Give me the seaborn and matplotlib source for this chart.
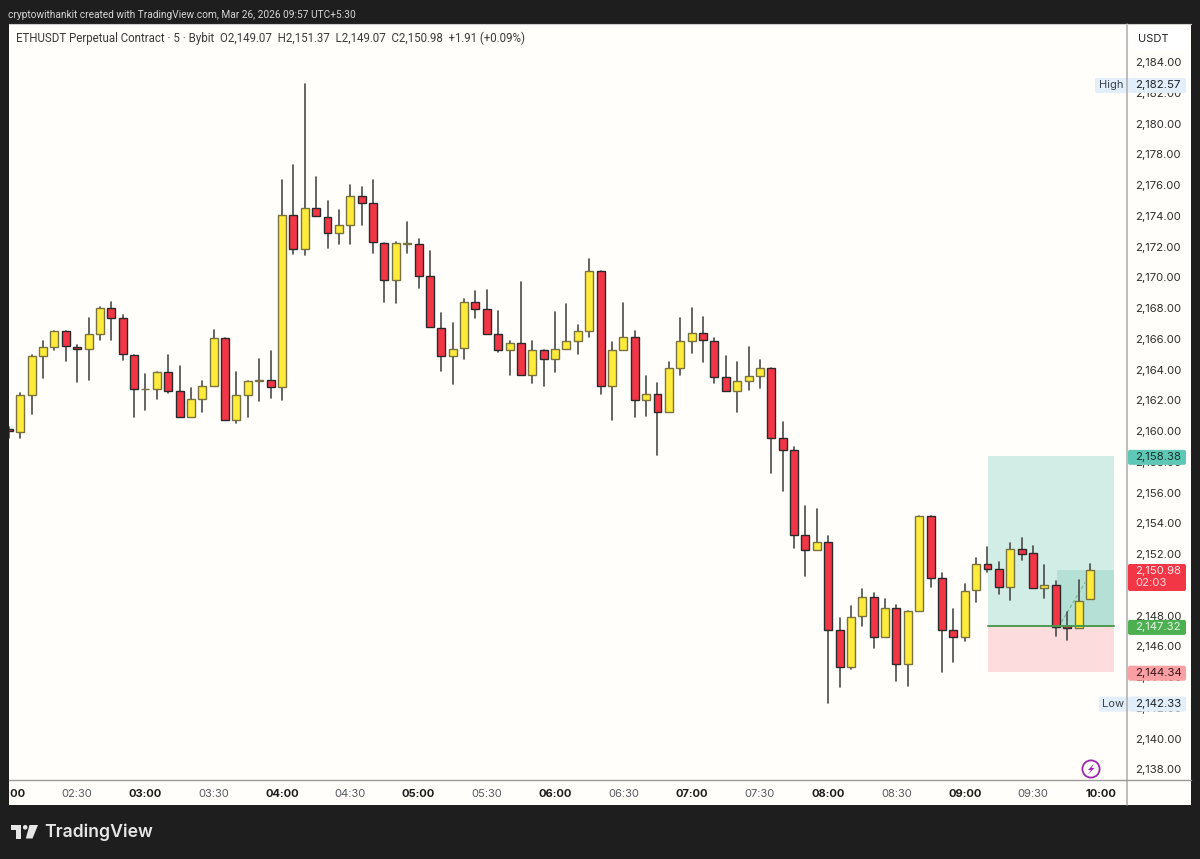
import matplotlib
matplotlib.use('Agg')
import matplotlib.pyplot as plt
from matplotlib.patches import FancyBboxPatch, Polygon, Circle
import pandas as pd
import seaborn as sns

# 5 minute candles, first one at 02:00
opens = [2160.13, 2159.99, 2162.37, 2164.91, 2165.50, 2166.56, 2165.52, 2165.37, 2166.36, 2168.03,
         2167.36, 2164.98, 2162.78, 2162.76, 2163.89, 2162.61, 2160.94, 2162.13, 2162.98, 2166.08,
         2160.77, 2162.39, 2163.29, 2163.37, 2162.92, 2174.10, 2171.85, 2174.54, 2173.95, 2172.91,
         2173.41, 2175.34, 2174.86, 2172.28, 2169.83, 2172.22, 2172.18, 2170.11, 2166.75, 2164.91,
         2165.41, 2168.42, 2167.99, 2166.34, 2165.28, 2165.74, 2163.68, 2165.32, 2164.70, 2165.39,
         2165.89, 2166.56, 2170.46, 2162.96, 2165.32, 2166.15, 2162.03, 2162.46, 2161.29, 2164.15,
         2165.89, 2166.41, 2165.91, 2163.53, 2162.61, 2163.31, 2163.63, 2164.11, 2159.56, 2158.80,
         2153.27, 2152.27, 2152.81, 2147.07, 2144.68, 2148.00, 2149.22, 2146.65, 2148.50, 2144.90,
         2148.33, 2154.52, 2150.45, 2147.07, 2146.64, 2149.67, 2151.40, 2151.06, 2149.87, 2152.38,
         2152.08, 2149.84, 2150.00, 2147.32, 2147.20, 2149.07]
highs = [2160.30, 2162.52, 2164.95, 2165.87, 2166.56, 2166.56, 2165.65, 2167.38, 2168.10, 2168.44,
         2167.60, 2164.98, 2163.76, 2163.89, 2164.95, 2164.24, 2162.85, 2163.29, 2166.58, 2166.08,
         2163.87, 2163.27, 2164.74, 2165.22, 2176.34, 2177.35, 2182.57, 2176.55, 2174.97, 2174.41,
         2176.01, 2175.88, 2176.38, 2172.28, 2172.33, 2173.63, 2172.52, 2171.76, 2167.69, 2167.04,
         2168.60, 2169.12, 2169.19, 2167.86, 2165.91, 2169.72, 2165.87, 2165.32, 2167.79, 2168.31,
         2166.93, 2171.20, 2170.46, 2165.80, 2168.34, 2166.56, 2163.61, 2163.18, 2164.50, 2167.40,
         2168.03, 2167.43, 2166.10, 2164.93, 2164.52, 2165.52, 2164.67, 2164.11, 2160.62, 2159.01,
         2155.16, 2154.94, 2153.20, 2147.89, 2148.67, 2149.78, 2149.48, 2149.09, 2148.70, 2148.33,
         2154.52, 2154.52, 2150.82, 2148.44, 2150.09, 2151.75, 2152.47, 2151.51, 2152.77, 2153.07,
         2152.55, 2151.30, 2150.26, 2148.26, 2150.34, 2151.37]
lows = [2159.60, 2159.60, 2161.16, 2163.48, 2165.28, 2164.59, 2163.22, 2163.33, 2165.95, 2165.95,
        2164.67, 2160.94, 2161.40, 2162.13, 2162.50, 2160.94, 2160.94, 2161.25, 2162.98, 2160.77,
        2160.55, 2160.94, 2161.99, 2162.16, 2162.07, 2171.57, 2171.46, 2174.00, 2171.94, 2172.22,
        2172.22, 2173.43, 2171.63, 2168.40, 2168.38, 2171.63, 2169.35, 2166.78, 2163.95, 2163.09,
        2164.72, 2167.38, 2166.36, 2165.19, 2163.70, 2163.68, 2163.16, 2162.94, 2163.85, 2165.39,
        2165.04, 2166.13, 2162.42, 2160.73, 2165.32, 2160.96, 2161.03, 2158.45, 2161.29, 2163.70,
        2165.11, 2164.52, 2163.16, 2162.61, 2161.27, 2162.68, 2162.85, 2157.32, 2156.13, 2152.42,
        2150.60, 2152.27, 2142.33, 2143.38, 2144.53, 2147.37, 2145.92, 2146.65, 2143.75, 2143.43,
        2148.33, 2149.91, 2144.38, 2145.03, 2146.40, 2148.93, 2150.84, 2149.43, 2149.04, 2151.64,
        2149.84, 2149.15, 2146.70, 2146.44, 2147.20, 2149.07]
closes = [2160.00, 2162.35, 2164.89, 2165.48, 2166.56, 2165.56, 2165.35, 2166.34, 2168.05, 2167.38,
          2165.02, 2162.76, 2162.78, 2163.89, 2162.63, 2160.94, 2162.13, 2162.98, 2166.08, 2160.77,
          2162.37, 2163.27, 2163.37, 2162.89, 2174.10, 2171.85, 2174.56, 2174.00, 2172.91, 2173.41,
          2175.34, 2174.88, 2172.33, 2169.83, 2172.26, 2172.26, 2170.13, 2166.78, 2164.91, 2165.39,
          2168.42, 2167.99, 2166.36, 2165.30, 2165.74, 2163.68, 2165.32, 2164.72, 2165.35, 2165.89,
          2166.52, 2170.46, 2162.98, 2165.28, 2166.13, 2162.03, 2162.46, 2161.29, 2164.13, 2165.87,
          2166.41, 2165.93, 2163.55, 2162.61, 2163.29, 2163.61, 2164.11, 2159.58, 2158.82, 2153.29,
          2152.27, 2152.81, 2147.11, 2144.68, 2147.96, 2149.22, 2146.65, 2148.50, 2144.90, 2148.33,
          2154.52, 2150.47, 2147.07, 2146.62, 2149.63, 2151.40, 2151.08, 2149.87, 2152.38, 2152.05,
          2149.84, 2150.02, 2147.31, 2147.22, 2148.96, 2150.98]

price_ticks = [2184, 2182, 2180, 2178, 2176, 2174, 2172, 2170, 2168, 2166, 2164, 2162,
               2160, 2158, 2156, 2154, 2152, 2150, 2148, 2146, 2144, 2142, 2140, 2138]
time_labels = ['02:00', '02:30', '03:00', '03:30', '04:00', '04:30', '05:00', '05:30',
               '06:00', '06:30', '07:00', '07:30', '08:00', '08:30', '09:00', '09:30', '10:00']

target_price = 2158.38
entry_price = 2147.32
stop_price = 2144.34
high_price = 2182.57
low_price = 2142.33
last_price = 2150.98

W, H = 1200, 859
BG = '#1e1e1e'
PANE = '#fffefa'
RED = '#f23645'
YELLOW = '#ffeb3b'


def axes_px(fig, left, top, right, bottom):
    return fig.add_axes([left / W, 1 - bottom / H, (right - left) / W, (bottom - top) / H])


sns.set_theme(style='white')
plt.rcParams['font.family'] = ['Inter', 'DejaVu Sans']

fig = plt.figure(figsize=(W / 100, H / 100), dpi=100, facecolor=BG)
ax = axes_px(fig, 9, 24, 1127, 780)
ax_price = axes_px(fig, 1127, 24, 1191, 780)
ax_time = axes_px(fig, 9, 780, 1127, 805)
ax_corner = axes_px(fig, 1127, 780, 1191, 805)
over = fig.add_axes([0, 0, 1, 1], facecolor='none')
over.set_xlim(0, W)
over.set_ylim(H, 0)
over.axis('off')

xlim = (0.01, 98.26)
ylim = (2137.33, 2186.50)


def py(price):
    # pixel row of a price on the main pane
    return 24 + (ylim[1] - price) / (ylim[1] - ylim[0]) * 756


def xfrac(k):
    return (k - xlim[0]) / (xlim[1] - xlim[0])


candles = pd.DataFrame({'k': range(len(opens)), 'open': opens, 'high': highs, 'low': lows, 'close': closes})
candles['up'] = candles['close'] >= candles['open']
candles['bottom'] = candles[['open', 'close']].min(axis=1)
candles['height'] = (candles['close'] - candles['open']).abs()

# position tool shading behind the candles
ax.axhspan(entry_price, target_price, xmin=xfrac(86.03), xmax=xfrac(97.15), color='#d2ece6', lw=0, zorder=1)
ax.axhspan(stop_price, entry_price, xmin=xfrac(86.03), xmax=xfrac(97.15), color='#fcdcdc', lw=0, zorder=1)
ax.axhspan(entry_price, last_price, xmin=xfrac(92.1), xmax=xfrac(97.15), color='#b4e0d6', lw=0, zorder=1)
ax.plot([86.03, 97.15], [entry_price, entry_price], color='#4c9a50', lw=1.4, zorder=4)
ax.plot([92.5, 94.6], [2147.6, 2150.2], color='#6fb98a', lw=0.8, ls=(0, (3, 2)), zorder=2)

wicks = candles.melt(id_vars='k', value_vars=['high', 'low'], value_name='price').sort_values('k')
sns.lineplot(data=wicks, x='k', y='price', units='k', estimator=None, sort=False,
             color='#4a4a4a', linewidth=1.2, legend=False, ax=ax, zorder=2)

for is_up, face, edge in [(True, YELLOW, '#77723f'), (False, RED, '#2a2a2a')]:
    sub = candles[candles['up'] == is_up]
    sns.barplot(data=sub, x='k', y='height', native_scale=True, width=0.7, errorbar=None,
                color=face, saturation=1, bottom=sub['bottom'].values, edgecolor=edge,
                linewidth=1.0, ax=ax, zorder=3)

ax.set_xlim(xlim)
ax.set_ylim(ylim)
ax.set_xlabel('')
ax.set_ylabel('')
ax.set_xticks([])
ax.set_yticks([])
ax.set_facecolor(PANE)
sns.despine(ax=ax, left=True, bottom=True, top=True, right=True)

# price scale
ax_price.set_xlim(0, 1)
ax_price.set_ylim(ylim)
ax_price.set_facecolor(PANE)
ax_price.set_xticks([])
ax_price.set_yticks([])
sns.despine(ax=ax_price, left=True, bottom=True, top=True, right=True)
for p in price_ticks:
    over.text(1135, py(p) + 0.7, f'{p:,}.00', fontsize=8.2, color='#2e2e2e', va='center', ha='left', zorder=1)

# time scale
ax_time.set_xlim(xlim)
ax_time.set_ylim(0, 1)
ax_time.set_facecolor(PANE)
ax_time.set_xticks([])
ax_time.set_yticks([])
sns.despine(ax=ax_time, left=True, bottom=True, top=True, right=True)
for i, label in enumerate(time_labels):
    bold = label.endswith(':00')
    ax_time.text(i * 6, 0.45, label, ha='center', va='center', fontsize=8.0, clip_on=True,
                 fontweight='bold' if bold else 'normal', color='#1c1c1c' if bold else '#55585f')
ax_corner.set_facecolor(PANE)
ax_corner.set_xticks([])
ax_corner.set_yticks([])
sns.despine(ax=ax_corner, left=True, bottom=True, top=True, right=True)


def tag(price, label, face, color, top=None, bottom=None):
    y = py(price) + 1
    top = y - 7.5 if top is None else top
    bottom = y + 7.5 if bottom is None else bottom
    over.add_patch(FancyBboxPatch((1128, top), 58, bottom - top, boxstyle='round,pad=0,rounding_size=2',
                                  fc=face, ec='none', zorder=5))
    over.text(1135, y, label, fontsize=8.2, color=color, va='center', ha='left', zorder=6)


over.add_patch(FancyBboxPatch((1095, py(high_price) - 6.5), 34, 15, boxstyle='round,pad=0,rounding_size=2',
                              fc='#e3eefb', ec='none', zorder=5))
over.text(1111, py(high_price) + 1, 'High', fontsize=8.0, color='#3a4048', ha='center', va='center', zorder=6)
over.add_patch(FancyBboxPatch((1099, py(low_price) - 6.5), 30, 15, boxstyle='round,pad=0,rounding_size=2',
                              fc='#e3eefb', ec='none', zorder=5))
over.text(1113, py(low_price) + 1, 'Low', fontsize=8.0, color='#3a4048', ha='center', va='center', zorder=6)

tag(high_price, f'{high_price:,.2f}', '#e3eefb', '#1f2328')
tag(low_price, f'{low_price:,.2f}', '#e3eefb', '#1f2328')
tag(target_price, f'{target_price:,.2f}', '#5fc7b5', '#15322c')
tag(stop_price, f'{stop_price:,.2f}', '#f9a0a5', '#3a1518')
tag(entry_price, f'{entry_price:,.2f}', '#4caf50', '#e8f5e9')
tag(last_price, f'{last_price:,.2f}', RED, '#ffe6e8', top=564, bottom=591)
over.text(1135, 583, '02:03', fontsize=8.2, color='#ffd9dc', va='center', ha='left', zorder=6)

# USDT box and axis borders
over.add_patch(FancyBboxPatch((1131, 27), 56, 23, boxstyle='round,pad=0,rounding_size=4',
                              fc='#ffffff', ec='none', zorder=5))
over.text(1138, 39.5, 'USDT', fontsize=8.0, color='#1f1f1f', va='center', ha='left', zorder=6)
over.plot([1127, 1127], [24, 805], color='#ababab', lw=1.1, zorder=7)
over.plot([9, 1191], [780, 780], color='#9a9a9a', lw=1.0, zorder=7)
over.plot([9, 1191], [24, 24], color='#cfcfcf', lw=0.8, zorder=7)

# header texts
over.text(8, 14.5, 'cryptowithankit created with TradingView.com, Mar 26, 2026 09:57 UTC+5:30',
          fontsize=7.25, family='Roboto', color='#d6d6d6', va='center', ha='left')
over.text(15.5, 38.5, 'ETHUSDT Perpetual Contract · 5 · Bybit  O2,149.07  H2,151.37  L2,149.07  C2,150.98  +1.91 (+0.09%)',
          fontsize=8.3, family='Roboto', color='#3a3a3a', va='center', ha='left')

# purple bolt badge
over.add_patch(Circle((1091, 769), 8.6, fc='none', ec='#9c27b0', lw=1.3, zorder=6))
over.add_patch(Polygon([(1094, 763.5), (1088, 770), (1091, 770), (1088, 774.5), (1094.5, 768), (1091.5, 768)],
                       closed=True, fc='#9c27b0', ec='none', zorder=6))

# TradingView logo
logo = '#e6e6e6'
over.add_patch(Polygon([(11, 825), (21, 825), (21, 838.5), (16, 838.5), (16, 829.5), (11, 829.5)], closed=True, fc=logo, ec='none'))
over.add_patch(Circle((25.2, 827.3), 2.3, fc=logo, ec='none'))
over.add_patch(Polygon([(29.5, 825), (38, 825), (32.5, 838.5), (25.8, 838.5)], closed=True, fc=logo, ec='none'))
over.text(44, 832, 'TradingView', fontsize=12.7, fontweight='semibold', color=logo, va='center', ha='left')

fig.savefig('out.png', dpi=100, facecolor=BG)
